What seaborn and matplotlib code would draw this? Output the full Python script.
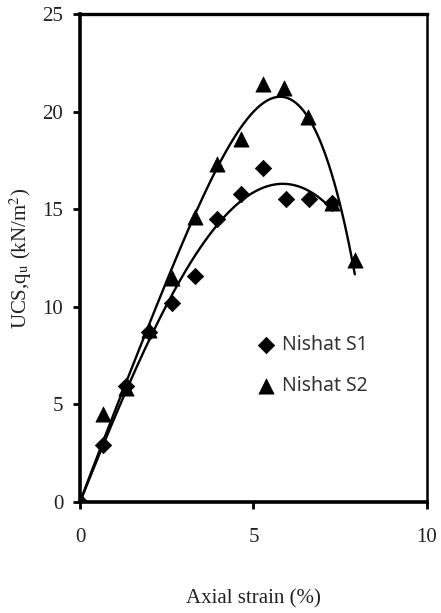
import numpy as np
import pandas as pd
import matplotlib
matplotlib.use("Agg")
import matplotlib.pyplot as plt
import seaborn as sns

# Data
s1_strain = [0.0, 0.67, 1.32, 1.99, 2.64, 3.30, 3.96, 4.63, 5.27, 5.93, 6.60, 7.27]
s1_ucs    = [0.0, 2.9, 5.95, 8.7, 10.2, 11.6, 14.5, 15.8, 17.1, 15.5, 15.5, 15.3]
s2_strain = [0.0, 0.67, 1.32, 1.99, 2.64, 3.30, 3.96, 4.63, 5.27, 5.88, 6.58, 7.27, 7.92]
s2_ucs    = [0.0, 4.5, 5.85, 8.8, 11.5, 14.6, 17.3, 18.6, 21.4, 21.2, 19.7, 15.3, 12.4]
series_names = ["Nishat S1", "Nishat S2"]

x_ticks = [0, 5, 10]
y_ticks = [0, 5, 10, 15, 20, 25]

sns.set_theme(style="white")
plt.rcParams["font.family"] = ["Liberation Serif", "DejaVu Serif"]
plt.rcParams["mathtext.fontset"] = "stix"

fig = plt.figure(figsize=(4.41, 6.13), dpi=100)
ax = fig.add_axes([80/441, 1-502/613, 347/441, 488/613])

# Polynomial trendlines (order 4, through origin)
for xs, ys in [(s1_strain, s1_ucs), (s2_strain, s2_ucs)]:
    xa = np.asarray(xs); ya = np.asarray(ys)
    A = np.vstack([xa**k for k in range(1, 5)]).T
    coef, *_ = np.linalg.lstsq(A, ya, rcond=None)
    xx = np.linspace(0, xa.max(), 200)
    yy = sum(coef[k-1] * xx**k for k in range(1, 5))
    fit = pd.DataFrame({"x": xx, "y": yy})
    sns.lineplot(data=fit, x="x", y="y", ax=ax, color="black", lw=1.7, legend=False)

df1 = pd.DataFrame({"strain": s1_strain, "ucs": s1_ucs})
df2 = pd.DataFrame({"strain": s2_strain, "ucs": s2_ucs})
sns.scatterplot(data=df1, x="strain", y="ucs", marker="D", color="black", s=70,
                edgecolor="black", linewidth=0.5, ax=ax, zorder=5, label=series_names[0])
sns.scatterplot(data=df2, x="strain", y="ucs", marker="^", color="black", s=120,
                edgecolor="black", linewidth=0.5, ax=ax, zorder=5, label=series_names[1])

ax.set_xlim(0, 10)
ax.set_ylim(0, 25)
ax.set_xticks(x_ticks)
ax.set_yticks(y_ticks)
ax.tick_params(axis="both", direction="out", length=5, width=2, color="black",
               labelsize=15, bottom=True, left=True)
ax.tick_params(axis="x", pad=14)
ax.tick_params(axis="y", pad=7)
for t in ax.get_xticklabels() + ax.get_yticklabels():
    t.set_color("#222222")
for side, w in [("left", 2.6), ("bottom", 2.6), ("top", 2.4), ("right", 1.8)]:
    ax.spines[side].set_linewidth(w)
    ax.spines[side].set_color("black")

ax.set_xlabel("Axial strain (%)", fontsize=15, labelpad=30, color="#222222")
ax.set_ylabel(r"UCS,q$_\mathrm{u}$ (kN/m$^2$)", fontsize=15, labelpad=6, color="#222222")

handles, labels = ax.get_legend_handles_labels()
leg = ax.legend(handles, labels, loc="center left", bbox_to_anchor=(0.43, 0.28),
                frameon=False, handletextpad=-0.2, labelspacing=1.1, markerscale=1.0,
                prop={"family": "Noto Sans", "size": 14})
for txt in leg.get_texts():
    txt.set_color("#333333")

fig.savefig("out.png", dpi=100, facecolor="white")
